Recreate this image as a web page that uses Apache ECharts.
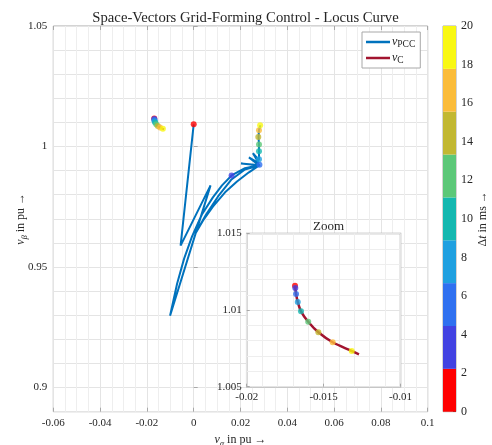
<!DOCTYPE html>
<html>
<head>
<meta charset="utf-8">
<script src="https://cdn.jsdelivr.net/npm/echarts@6/dist/echarts.min.js"></script>
<style>
  html, body { margin: 0; padding: 0; background: #fff; }
  #chart { width: 492px; height: 445px; }
</style>
</head>
<body>
<div id="chart"></div>
<script>
// v_PCC locus (pu)
const pccX = [0.0000, -0.0056, 0.0072, -0.0101, -0.0071, -0.0041, -0.0007, 0.0035, 0.0082, 0.0121, 0.0162,
  0.0219, 0.0283, 0.0236, 0.0185, 0.0134, 0.0082, 0.0040, 0.0010, 0.0053, 0.0104, 0.0160, 0.0219, 0.0283,
  0.0202, 0.0279, 0.0236, 0.0279, 0.0253, 0.0279, 0.0279, 0.0279, 0.0277, 0.0279, 0.0285];
const pccY = [1.0092, 0.9589, 0.9839, 0.9298, 0.9431, 0.9535, 0.9627, 0.9718, 0.9789, 0.9839, 0.9880,
  0.9910, 0.9924, 0.9893, 0.9855, 0.9810, 0.9751, 0.9693, 0.9643, 0.9718, 0.9793, 0.9862, 0.9905, 0.9922,
  0.9930, 0.9922, 0.9955, 0.9930, 0.9972, 0.9943, 0.9980, 1.0008, 1.0040, 1.0068, 1.0088];
// v_C locus (pu)
const cX = [-0.01686, -0.01684, -0.01679, -0.01668, -0.01647, -0.0160, -0.01534, -0.01441, -0.01317, -0.0127];
const cY = [1.01159, 1.01144, 1.01105, 1.01053, 1.00992, 1.00924, 1.00855, 1.0079, 1.00733, 1.00711];

// time markers (ms) and where they sit
const dotTimes = [0, 2.5, 5, 7.5, 10, 12.5, 15, 17.5, 20];
const pccDotX = [0.0000, 0.0162, 0.0281, 0.0279, 0.0279, 0.0279, 0.0276, 0.0279, 0.0284];
const pccDotY = [1.0092, 0.9880, 0.9924, 0.9947, 0.9980, 1.0008, 1.0040, 1.0068, 1.0088];
const cDotX = [-0.01686, -0.01684, -0.01679, -0.01668, -0.01647, -0.0160, -0.01534, -0.01441, -0.01317];
const cDotY = [1.01159, 1.01144, 1.01105, 1.01053, 1.00992, 1.00924, 1.00855, 1.0079, 1.00733];

// colorbar
const bandEdges = [0, 2.222, 4.444, 6.667, 8.889, 11.111, 13.333, 15.556, 17.778, 20];
const bandColors = ['#ff0000', '#4242e2', '#2f70f0', '#1fa0e0', '#14b8b0', '#5cc878', '#c2b832', '#fbbc3a', '#f9f812'];

// tick labels
const mainXTicks = [-0.06, -0.04, -0.02, 0, 0.02, 0.04, 0.06, 0.08, 0.1];
const mainYTicks = [0.9, 0.95, 1, 1.05];
const zoomXTicks = [-0.02, -0.015, -0.01];
const zoomYTicks = [1.005, 1.01, 1.015];

const FONT = "'Liberation Serif', 'DejaVu Serif', serif";
const TXT = '#262626';
const BOX = '#a8a8a8';
const GRIDC = '#e4e4e4';
const MINORC = '#eeeeee';

const zip = (xs, ys) => xs.map((x, i) => [x, ys[i]]);
const zip3 = (xs, ys, ts) => xs.map((x, i) => [x, ys[i], ts[i]]);
const fmt = (v) => String(Number(v.toFixed(4)));

const label = { fontFamily: FONT, fontSize: 11, color: TXT };

const nameRich = {
  i: { fontFamily: FONT, fontStyle: 'italic', fontSize: 12, color: TXT },
  a: { fontFamily: FONT, fontStyle: 'italic', fontSize: 8, color: TXT, verticalAlign: 'bottom', lineHeight: 16 },
  n: { fontFamily: FONT, fontSize: 12, color: TXT },
  d: { fontFamily: FONT, fontSize: 12, color: TXT },
};

const chart = echarts.init(document.getElementById('chart'), null, { renderer: 'canvas' });

const pieces = bandColors.map((c, i) => {
  const p = { gte: bandEdges[i], color: c };
  if (i < bandColors.length - 1) p.lt = bandEdges[i + 1];
  else p.lte = bandEdges[i + 1];
  return p;
});

const option = {
  backgroundColor: '#fff',
  animation: false,
  title: [
    {
      text: 'Space-Vectors Grid-Forming Control - Locus Curve',
      left: 240.5, top: 6, textAlign: 'center',
      textStyle: { fontFamily: FONT, fontSize: 14.7, fontWeight: 'normal', color: TXT },
    },
    {
      text: 'Zoom',
      left: 323.6, top: 215, textAlign: 'center',
      textStyle: { fontFamily: FONT, fontSize: 13, fontWeight: 'normal', color: TXT },
    },
  ],
  legend: {
    data: [{ name: 'vPCC', icon: 'rect' }, { name: 'vC', icon: 'rect' }],
    orient: 'vertical',
    left: 362, top: 32,
    itemWidth: 24, itemHeight: 2.5, itemGap: 3,
    padding: [4, 5, 3, 4],
    backgroundColor: '#fff',
    borderColor: BOX, borderWidth: 1,
    formatter: (name) => name === 'vPCC' ? '{v|v}{s|PCC}' : '{v|v}{s|C}',
    textStyle: {
      fontFamily: FONT, color: TXT, padding: [0, 0, 0, -3],
      rich: {
        v: { fontFamily: FONT, fontStyle: 'italic', fontSize: 12, color: TXT, lineHeight: 14 },
        s: { fontFamily: FONT, fontSize: 9.5, color: TXT, verticalAlign: 'bottom', lineHeight: 13 },
      },
    },
  },
  visualMap: {
    type: 'piecewise', show: false, dimension: 2,
    seriesIndex: [2, 3, 5], pieces: pieces,
  },
  grid: [
    { left: 53.3, top: 26, width: 374.4, height: 385.7, outerBoundsMode: 'none', containLabel: false,
      show: true, borderColor: BOX, borderWidth: 1, backgroundColor: 'transparent' },
    { left: 246.7, top: 233.5, width: 153.8, height: 153.2, outerBoundsMode: 'none', containLabel: false,
      show: true, borderColor: BOX, borderWidth: 1.5, backgroundColor: '#fff', z: 1 },
    { left: 443, top: 26, width: 13, height: 385.7, outerBoundsMode: 'none', containLabel: false,
      show: true, borderColor: BOX, borderWidth: 1 },
  ],
  xAxis: [
    {
      gridIndex: 0, type: 'value', min: -0.06, max: 0.1, interval: 0.02,
      name: '{i|v}{a|α}{n| in pu →}', nameLocation: 'middle', nameGap: 19,
      nameTextStyle: { fontFamily: FONT, fontSize: 12, color: TXT, rich: nameRich },
      axisLine: { show: false },
      axisTick: { show: true, inside: true, length: 4, lineStyle: { color: BOX } },
      axisLabel: Object.assign({ margin: 6, formatter: fmt, customValues: mainXTicks }, label),
      splitLine: { show: true, lineStyle: { color: GRIDC, width: 1 } },
      minorTick: { show: false, splitNumber: 4 },
      minorSplitLine: { show: true, lineStyle: { color: MINORC, width: 1 } },
    },
    {
      gridIndex: 0, type: 'value', position: 'top', min: -0.06, max: 0.1, interval: 0.02,
      axisLine: { show: false },
      axisTick: { show: true, inside: true, length: 4, lineStyle: { color: BOX } },
      axisLabel: { show: false },
      splitLine: { show: false },
    },
    {
      gridIndex: 1, type: 'value', min: -0.02, max: -0.01, interval: 0.005, z: 1,
      axisLine: { show: false },
      axisTick: { show: true, inside: true, length: 3, lineStyle: { color: BOX } },
      axisLabel: Object.assign({ margin: 5, formatter: fmt, customValues: zoomXTicks }, label),
      splitLine: { show: true, lineStyle: { color: GRIDC } },
      minorTick: { show: false, splitNumber: 5 },
      minorSplitLine: { show: true, lineStyle: { color: MINORC } },
    },
    {
      gridIndex: 2, type: 'category', data: ['dt'], show: false,
    },
  ],
  yAxis: [
    {
      gridIndex: 0, type: 'value', min: 0.89, max: 1.05, interval: 0.01,
      name: '{i|v}{a|β}{n| in pu →}', nameLocation: 'middle', nameGap: 24, nameRotate: 90,
      nameMoveOverlap: false,
      nameTextStyle: { fontFamily: FONT, fontSize: 12, color: TXT, rich: nameRich },
      axisLine: { show: false },
      axisTick: { show: true, inside: true, length: 4, customValues: mainYTicks, lineStyle: { color: BOX } },
      axisLabel: Object.assign({ margin: 6, formatter: fmt, customValues: mainYTicks }, label),
      splitLine: { show: false },
    },
    {
      gridIndex: 0, type: 'value', position: 'right', min: 0.89, max: 1.05, interval: 0.01,
      axisLine: { show: false },
      axisTick: { show: false },
      axisLabel: { show: false },
      splitLine: { show: true, lineStyle: { color: GRIDC } },
    },
    {
      gridIndex: 1, type: 'value', min: 1.005, max: 1.015, interval: 0.005, z: 1,
      axisLine: { show: false },
      axisTick: { show: true, inside: true, length: 3, lineStyle: { color: BOX } },
      axisLabel: Object.assign({ margin: 5, formatter: fmt, customValues: zoomYTicks }, label),
      splitLine: { show: true, lineStyle: { color: GRIDC } },
      minorTick: { show: false, splitNumber: 5 },
      minorSplitLine: { show: true, lineStyle: { color: MINORC } },
    },
    {
      gridIndex: 2, type: 'value', position: 'right', min: 0, max: 20, interval: 2,
      name: '{d|Δ}{i|t}{n| in ms →}', nameLocation: 'middle', nameGap: 20, nameRotate: 90,
      nameTextStyle: { fontFamily: FONT, fontSize: 12, color: TXT, rich: nameRich },
      axisLine: { show: false },
      axisTick: { show: true, inside: true, length: 3, lineStyle: { color: '#555' } },
      axisLabel: Object.assign({ margin: 5 }, label, { fontSize: 12 }),
      splitLine: { show: false },
    },
  ],
  series: [
    {
      name: 'vPCC', type: 'line', xAxisIndex: 0, yAxisIndex: 0,
      data: zip(pccX, pccY), showSymbol: false, symbol: 'none',
      color: '#0072bd', lineStyle: { width: 2, color: '#0072bd' }, z: 2,
    },
    {
      name: 'vC', type: 'line', xAxisIndex: 0, yAxisIndex: 0,
      data: zip(cX, cY), showSymbol: false, symbol: 'none', smooth: 0.3,
      color: '#a2142f', lineStyle: { width: 2, color: '#a2142f' }, z: 2,
    },
    {
      name: 'tPCC', type: 'scatter', xAxisIndex: 0, yAxisIndex: 0,
      data: zip3(pccDotX, pccDotY, dotTimes), symbolSize: 6, z: 3,
    },
    {
      name: 'tC', type: 'scatter', xAxisIndex: 0, yAxisIndex: 0,
      data: zip3(cDotX, cDotY, dotTimes), symbolSize: 6, z: 3,
    },
    {
      name: 'vCZoom', type: 'line', xAxisIndex: 2, yAxisIndex: 2,
      data: zip(cX, cY), showSymbol: false, symbol: 'none', smooth: 0.3,
      lineStyle: { width: 2.5, color: '#a2142f' }, z: 4,
    },
    {
      name: 'tCZoom', type: 'scatter', xAxisIndex: 2, yAxisIndex: 2,
      data: zip3(cDotX, cDotY, dotTimes), symbolSize: 6, z: 5,
    },
  ].concat(bandColors.map((c, i) => ({
    name: 'band' + i, type: 'bar', xAxisIndex: 3, yAxisIndex: 3, stack: 'cb',
    barWidth: '100%', data: [bandEdges[i + 1] - bandEdges[i]],
    itemStyle: { color: c }, silent: true,
  }))),
};

chart.setOption(option);
</script>
</body>
</html>
